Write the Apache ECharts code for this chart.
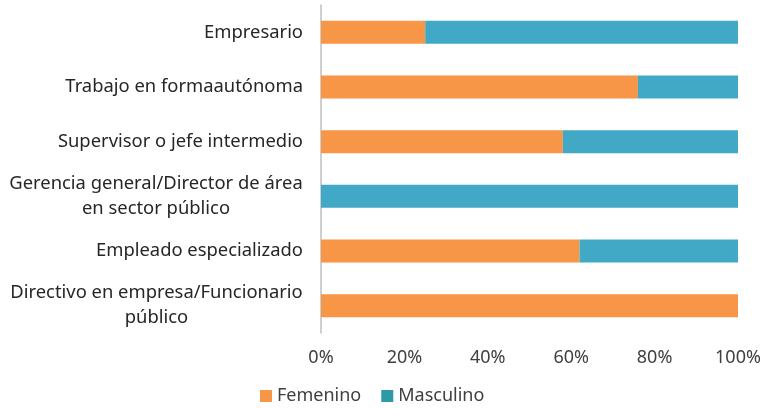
<!DOCTYPE html>
<html><head><meta charset="utf-8">
<script src="https://cdn.jsdelivr.net/npm/echarts@6/dist/echarts.min.js"></script>
<style>html,body{margin:0;padding:0;background:#fff}#c{width:767px;height:409px}</style>
</head><body><div id="c"></div>
<script>
const categories = [
  "Directivo en empresa/Funcionario\npúblico",
  "Empleado especializado",
  "Gerencia general/Director de área\nen sector público",
  "Supervisor o jefe intermedio",
  "Trabajo en formaautónoma",
  "Empresario"
];
const femenino = [100, 62, 0, 58, 76, 25];
const masculino = [0, 38, 100, 42, 24, 75];
const xTicks = [0, 20, 40, 60, 80, 100];

const FONT = "Noto Sans";
const FS = 18;
const CFS = 18.4;
const cv = document.createElement('canvas').getContext('2d');
cv.font = CFS + 'px "' + FONT + '"';

// rich styles: one per multi-line label, width = widest line, lines centred
const rich = {};
const keyOf = {};
categories.forEach((v, i) => {
  const lines = v.split('\n');
  if (lines.length > 1) {
    const w = Math.ceil(Math.max(...lines.map(l => cv.measureText(l).width)));
    rich['r' + i] = {width: w, align: 'center', fontSize: CFS, lineHeight: 25, color: '#262626', fontFamily: FONT};
    keyOf[v] = 'r' + i;
  }
});

const chart = echarts.init(document.getElementById('c'));
chart.setOption({
  animation: false,
  textStyle: {fontFamily: FONT},
  legend: {
    top: 382, left: 255, itemWidth: 12, itemHeight: 12, itemGap: 20,
    icon: 'rect',
    textStyle: {fontSize: FS, color: '#404040', fontFamily: FONT},
    data: [{name: 'Femenino', itemStyle: {color: '#f79646'}}, {name: 'Masculino', itemStyle: {color: '#2e9aa6'}}]
  },
  grid: {left: 321, right: 29, top: 5, height: 328, containLabel: false},
  xAxis: {
    type: 'value', min: 0, max: 100, interval: 20,
    axisLine: {show: false}, axisTick: {show: false}, splitLine: {show: false},
    axisLabel: {
      formatter: v => xTicks.includes(v) ? v + '%' : '',
      fontSize: FS, color: '#404040', margin: 16, fontFamily: FONT
    }
  },
  yAxis: {
    type: 'category', data: categories,
    axisLine: {show: true, lineStyle: {color: '#bfbfbf', width: 1.5}},
    axisTick: {show: false},
    axisLabel: {
      fontSize: CFS, color: '#262626', margin: 18, fontFamily: FONT, lineHeight: 25,
      formatter: function (v) {
        const k = keyOf[v];
        if (!k) return v;
        return v.split('\n').map(l => '{' + k + '|' + l + '}').join('\n');
      },
      rich: rich
    }
  },
  series: [
    {name: 'Femenino', type: 'bar', stack: 't', data: femenino, barWidth: '42%', itemStyle: {color: '#f79646'}},
    {name: 'Masculino', type: 'bar', stack: 't', data: masculino, barWidth: '42%', itemStyle: {color: '#41a9c6'}}
  ]
});
</script></body></html>
